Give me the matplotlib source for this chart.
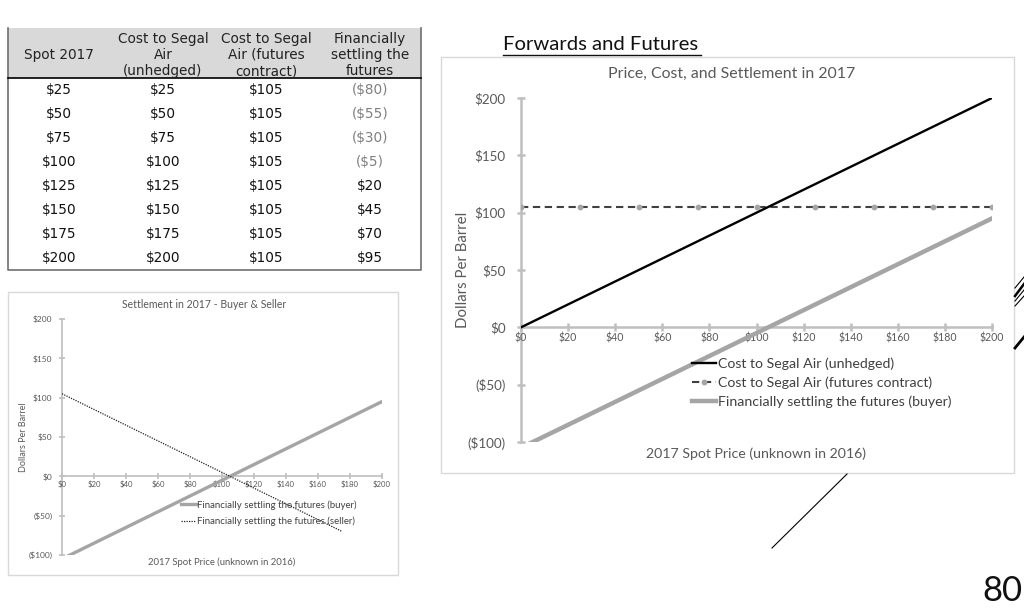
import numpy as np
import matplotlib.pyplot as plt
from matplotlib.patches import Rectangle
from matplotlib.ticker import FuncFormatter

# table data
spot = [25, 50, 75, 100, 125, 150, 175, 200]
cost_unhedged = [25, 50, 75, 100, 125, 150, 175, 200]
cost_futures = [105, 105, 105, 105, 105, 105, 105, 105]
settle_buyer = [-80, -55, -30, -5, 20, 45, 70, 95]
headers = ["Spot 2017", "Cost to Segal\nAir\n(unhedged)",
           "Cost to Segal\nAir (futures\ncontract)", "Financially\nsettling the\nfutures"]

# chart series
chart_spot = [0, 25, 50, 75, 100, 125, 150, 175, 200]
chart_unhedged = [0, 25, 50, 75, 100, 125, 150, 175, 200]
chart_futures = [105, 105, 105, 105, 105, 105, 105, 105, 105]
chart_buyer = [-105, -80, -55, -30, -5, 20, 45, 70, 95]
seller_spot = [0, 25, 50, 75, 100, 125, 150, 175]
chart_seller = [105, 80, 55, 30, 5, -20, -45, -70]

x_ticks = list(range(0, 201, 20))
y_ticks = [-100, -50, 0, 50, 100, 150, 200]

W, H = 1024, 610
GRID = "#bfbfbf"
TXT = "#595959"
CFONT = ["Lato", "DejaVu Sans"]
TFONT = ["DejaVu Sans"]


def money(v):
    return f"${v}" if v >= 0 else f"(${-v})"


fig = plt.figure(figsize=(W / 100, H / 100), dpi=100)
ov = fig.add_axes([0, 0, 1, 1], zorder=0)
ov.set_xlim(0, W)
ov.set_ylim(H, 0)
ov.axis("off")

# ---- table ----
tl, tr, tt, tb = 8, 421, 28, 270
ov.add_patch(Rectangle((tl, tt), tr - tl, 50, facecolor="#d9d9d9", edgecolor="none"))
ov.plot([tl, tl, tr, tr], [tt, tb, tb, tt], color="#6f6f6f", lw=1.2)
ov.plot([tl, tr], [78, 78], color="black", lw=1.2)
col_x = [59, 163, 266, 370]
for cx, h in zip(col_x, headers):
    ov.text(cx, 55, h, ha="center", va="center", fontsize=9.8,
            family=TFONT, linespacing=1.2, color="#222222")
for i in range(len(spot)):
    yy = 90 + 24 * i
    vals = [spot[i], cost_unhedged[i], cost_futures[i], settle_buyer[i]]
    for cx, v in zip(col_x, vals):
        col = "#7f7f7f" if v < 0 else "#111111"
        ov.text(cx, yy, money(v), ha="center", va="center", fontsize=9.8,
                family=TFONT, color=col)

# ---- chart frames ----
ov.add_patch(Rectangle((8, 292), 390, 283, facecolor="white", edgecolor="#d9d9d9", lw=1))
ov.add_patch(Rectangle((441, 57), 573, 416, facecolor="white", edgecolor="#d9d9d9", lw=1))

# heading
ov.text(503, 45, "Forwards and Futures", ha="left", va="center", fontsize=14.6,
        family=CFONT, color="#111111")
ov.plot([503, 701], [55, 55], color="#111111", lw=1)

# decorative strokes
ov.plot([847, 772], [474, 548], color="black", lw=0.8)
for (x0, y0, x1, y1, lw) in [(1015, 288, 1024, 277, 0.8), (1015, 296, 1024, 284, 1.8),
                             (1015, 301, 1024, 290, 0.8), (1015, 306, 1024, 296, 0.8),
                             (1015, 348, 1024, 337, 2.0)]:
    ov.plot([x0, x1], [y0, y1], color="black", lw=lw)
ov.text(1022, 591, "80", ha="right", va="center", fontsize=25, family=CFONT, color="#111111")


def make_axes(left, right, top, bottom):
    ax = fig.add_axes([left / W, 1 - bottom / H, (right - left) / W, (bottom - top) / H], zorder=2)
    ax.patch.set_alpha(0)
    return ax


def style(ax, lw, tick_len, xfs, yfs, ypad):
    ax.set_xlim(0, 200)
    ax.set_ylim(-100, 200)
    for s in ["top", "right"]:
        ax.spines[s].set_visible(False)
    for s in ["left", "bottom"]:
        ax.spines[s].set_position(("data", 0))
        ax.spines[s].set_color(GRID)
        ax.spines[s].set_linewidth(lw)
        ax.spines[s].set_zorder(1)
    ax.set_xticks(x_ticks)
    ax.set_yticks(y_ticks)
    ax.xaxis.set_major_formatter(FuncFormatter(lambda v, p: money(int(v))))
    ax.yaxis.set_major_formatter(FuncFormatter(lambda v, p: money(int(v))))
    ax.tick_params(direction="inout", length=tick_len, width=lw, color=GRID)
    ax.tick_params(axis="x", labelsize=xfs, labelcolor=TXT, pad=1)
    ax.tick_params(axis="y", labelsize=yfs, labelcolor=TXT, pad=ypad)
    for t in ax.get_xticklabels() + ax.get_yticklabels():
        t.set_family(CFONT)


# ---- big chart ----
ax = make_axes(521, 992, 98, 442)
style(ax, 1.8, 6, 7.6, 9.6, 8)
ax.plot(chart_spot, chart_unhedged, color="black", lw=1.7, zorder=4,
        label="Cost to Segal Air (unhedged)")
ax.plot(chart_spot, chart_futures, color="#404040", lw=1.5, ls=(0, (3.5, 2.2)), marker="o",
        ms=3.2, mfc="#a5a5a5", mec="#a5a5a5", zorder=3,
        label="Cost to Segal Air (futures contract)")
ax.plot(chart_spot, chart_buyer, color="#a5a5a5", lw=3.2, zorder=3,
        label="Financially settling the futures (buyer)")
fig.text(732 / W, 1 - 74 / H, "Price, Cost, and Settlement in 2017", ha="center", va="center",
         fontsize=11.4, color=TXT, family=CFONT)
ax.set_ylabel("Dollars Per Barrel", fontsize=10.8, color=TXT, family=CFONT)
ax.yaxis.set_label_coords((470 - 521) / 471, 0.5)
fig.text(756 / W, 1 - 454 / H, "2017 Spot Price (unknown in 2016)", ha="center", va="center",
         fontsize=10.2, color=TXT, family=CFONT)
ax.legend(loc="upper left", bbox_to_anchor=(692 / W, 1 - 357 / H), bbox_transform=fig.transFigure,
          frameon=False, handlelength=1.7, handletextpad=0.15, labelspacing=0.48,
          borderpad=0, borderaxespad=0, prop={"family": CFONT, "size": 10.2},
          labelcolor="#404040")

# ---- small chart ----
ax2 = make_axes(62, 382, 319, 555)
style(ax2, 1.2, 4, 5.6, 6, 5)
ax2.plot(chart_spot, chart_buyer, color="#a5a5a5", lw=2.4, zorder=3,
         label="Financially settling the futures (buyer)")
ax2.plot(seller_spot, chart_seller, color="#222222", lw=0.9, ls=(0, (1, 1)), zorder=4,
         label="Financially settling the futures (seller)")
fig.text(204 / W, 1 - 304 / H, "Settlement in 2017 - Buyer & Seller", ha="center", va="center",
         fontsize=7.6, color=TXT, family=CFONT)
ax2.set_ylabel("Dollars Per Barrel", fontsize=6.5, color=TXT, family=CFONT)
ax2.yaxis.set_label_coords((28 - 62) / 320, 0.5)
fig.text(222 / W, 1 - 562 / H, "2017 Spot Price (unknown in 2016)", ha="center", va="center",
         fontsize=6.8, color=TXT, family=CFONT)
ax2.legend(loc="upper left", bbox_to_anchor=(181 / W, 1 - 500 / H), bbox_transform=fig.transFigure,
           frameon=False, handlelength=1.6, handletextpad=0.1, labelspacing=0.75,
           borderpad=0, borderaxespad=0, prop={"family": CFONT, "size": 6.9},
           labelcolor="#404040")

fig.savefig("out.png", dpi=100)
